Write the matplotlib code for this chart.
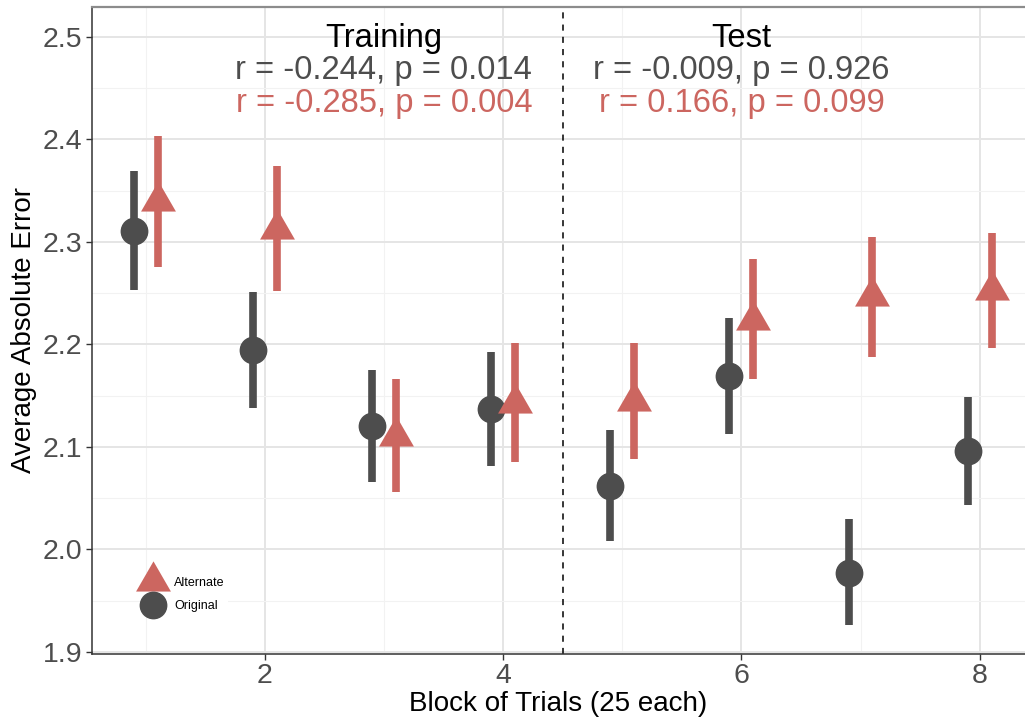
import numpy as np
import matplotlib.pyplot as plt
from matplotlib.lines import Line2D

plt.rcParams['font.family'] = ['Liberation Sans', 'DejaVu Sans']

blocks = np.arange(1, 9)

orig_mean = [2.311, 2.195, 2.120, 2.137, 2.062, 2.169, 1.977, 2.096]
orig_low = [2.253, 2.138, 2.066, 2.081, 2.008, 2.113, 1.926, 2.043]
orig_high = [2.369, 2.251, 2.175, 2.193, 2.116, 2.226, 2.030, 2.149]

alt_mean = [2.340, 2.313, 2.111, 2.143, 2.145, 2.224, 2.247, 2.253]
alt_low = [2.276, 2.252, 2.056, 2.085, 2.088, 2.166, 2.188, 2.196]
alt_high = [2.403, 2.374, 2.166, 2.201, 2.201, 2.283, 2.305, 2.309]

phase_x = [3, 6]
phase_names = ['Training', 'Test']
orig_stats = ['r = -0.244, p = 0.014', 'r = -0.009, p = 0.926']
alt_stats = ['r = -0.285, p = 0.004', 'r = 0.166, p = 0.099']

dark = '#4D4D4D'
red = '#CC6660'

# equilateral triangle centred on its centroid (like ggplot shape 17)
tri = [(-1, -0.577), (1, -0.577), (0, 1.155), (-1, -0.577)]

fig = plt.figure(figsize=(10.25, 7.19), dpi=100)
ax = fig.add_axes([92 / 1025, 1 - 653.5 / 719, 1 - 92 / 1025, (653.5 - 7.3) / 719])

ax.set_xlim(0.55, 8.38)
ax.set_ylim(1.8983, 2.529)

# grid
ax.set_xticks([2, 4, 6, 8])
ax.set_xticks([1, 3, 5, 7], minor=True)
ax.set_yticks(np.round(np.arange(1.9, 2.51, 0.1), 1))
ax.set_yticks(np.round(np.arange(1.95, 2.5, 0.1), 2), minor=True)
ax.grid(which='major', color='#E5E5E5', linewidth=1.4, zorder=0)
ax.grid(which='minor', color='#F2F2F2', linewidth=0.8, zorder=0)
ax.set_axisbelow(True)

# error bars + points
off = 0.1
ax.vlines(blocks - off, orig_low, orig_high, color=dark, linewidth=5.5, zorder=2)
ax.vlines(blocks + off, alt_low, alt_high, color=red, linewidth=5.5, zorder=2)
ax.plot(blocks - off, orig_mean, 'o', color=dark, markersize=19, linestyle='none', zorder=3)
ax.plot(blocks + off, alt_mean, marker=tri, color=red, markersize=29, linestyle='none',
        markeredgewidth=0, zorder=3)

ax.axvline(4.5, color='black', linestyle=(0, (4, 4)), linewidth=1.1, zorder=2)

for i in range(2):
    ax.text(phase_x[i], 2.4903, phase_names[i], ha='center', va='baseline', fontsize=23.6, color='black')
    ax.text(phase_x[i], 2.4588, orig_stats[i], ha='center', va='baseline', fontsize=23.6, color=dark)
    ax.text(phase_x[i], 2.4269, alt_stats[i], ha='center', va='baseline', fontsize=23.6, color=red)

# spines
ax.spines['right'].set_visible(False)
ax.spines['top'].set_color('#8C8C8C')
ax.spines['top'].set_linewidth(1.6)
ax.spines['left'].set_color('#333333')
ax.spines['bottom'].set_color('#333333')
ax.spines['left'].set_linewidth(1.1)
ax.spines['bottom'].set_linewidth(1.1)

ax.tick_params(which='major', length=4, width=1, color='#333333', labelsize=20.5,
               labelcolor=dark, pad=3)
ax.tick_params(which='minor', length=0)
ax.set_yticklabels(['1.9', '2.0', '2.1', '2.2', '2.3', '2.4', '2.5'])

ax.set_xlabel('Block of Trials (25 each)', fontsize=20, labelpad=1)
ax.set_ylabel('Average Absolute Error', fontsize=20, labelpad=4)

handles = [
    Line2D([], [], marker=tri, color=red, markersize=29, linestyle='none', markeredgewidth=0),
    Line2D([], [], marker='o', color=dark, markersize=19, linestyle='none'),
]
leg = ax.legend(handles, ['Alternate', 'Original'], loc='lower left',
                bbox_to_anchor=(0.045, 0.048), frameon=True, fontsize=9,
                handletextpad=0.9, labelspacing=0.95, borderpad=0.3,
                handlelength=1.5)
leg.get_frame().set_edgecolor('none')
leg.get_frame().set_facecolor('white')
leg.get_frame().set_alpha(1)

fig.savefig('out.png', dpi=100)
